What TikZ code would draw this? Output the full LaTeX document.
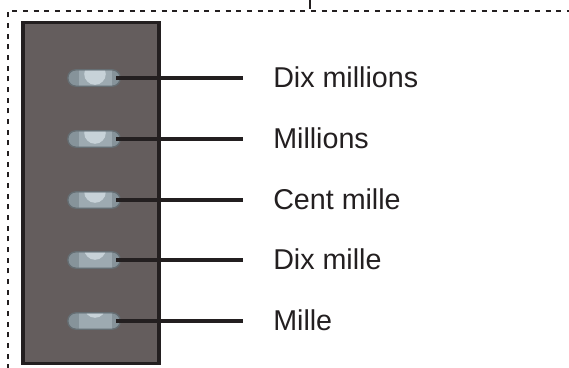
\documentclass[tikz,border=0pt]{standalone}
\usepackage{fontspec}
\setmainfont{Liberation Sans}
\definecolor{ink}{HTML}{231F20}
\definecolor{panel}{HTML}{645D5D}
\definecolor{swdark}{HTML}{86939A}
\definecolor{swmid}{HTML}{9DAAB1}
\definecolor{swlight}{HTML}{C7D2D8}
\tikzset{
  every picture/.style={x=0.75pt,y=-0.75pt},
  frame/.style={draw=ink,line width=1.9pt,dash pattern=on 3.8pt off 4.2pt},
  panelbox/.style={draw=ink,fill=panel,line width=2.4pt},
  switchbox/.style={draw=swdark!75!black,fill=swdark,line width=0.6pt,rounded corners=6pt,minimum width=39pt,minimum height=12pt,inner sep=0pt},
  wire/.style={draw=ink,line width=3.6pt},
  lbl/.style={anchor=base west,text=ink,font=\fontsize{21.5}{25}\selectfont,inner sep=0pt},
}
\begin{document}
\begin{tikzpicture}
\useasboundingbox (0,0) rectangle (569,368);
% dashed frame, running off the right and bottom edges
\draw[frame] (8,380) -- (8,11) -- (580,11);
\draw[draw=ink,line width=1.8pt] (310,0) -- (310,9);
% panel
\node[panelbox,minimum width=102pt,minimum height=256pt,inner sep=0pt] (panel) at (91,193) {};
% switches
\foreach \i/\cy/\off/\txt in {1/78/4/Dix millions,2/139/6/Millions,3/200/8/Cent mille,4/260/11/Dix mille,5/321/14/Mille}{
  \node[switchbox] (s\i) at (94,\cy) {};
  \begin{scope}
    \clip[rounded corners=6pt] (69,\cy-7.4) rectangle (119,\cy+7.4);
    \fill[swmid] (79,\cy-9) rectangle (112,\cy+9);
    \fill[swlight] (95,\cy-\off) circle (10.8);
  \end{scope}
  \draw[switchbox,fill=none] (s\i.south west) rectangle (s\i.north east);
  \coordinate (e\i) at (243,\cy);
  \draw[wire] ([xshift=-3pt]s\i.east) -- (e\i);
  \node[lbl] (t\i) at (273,\cy+9.5) {\txt};
}
\end{tikzpicture}
\end{document}
